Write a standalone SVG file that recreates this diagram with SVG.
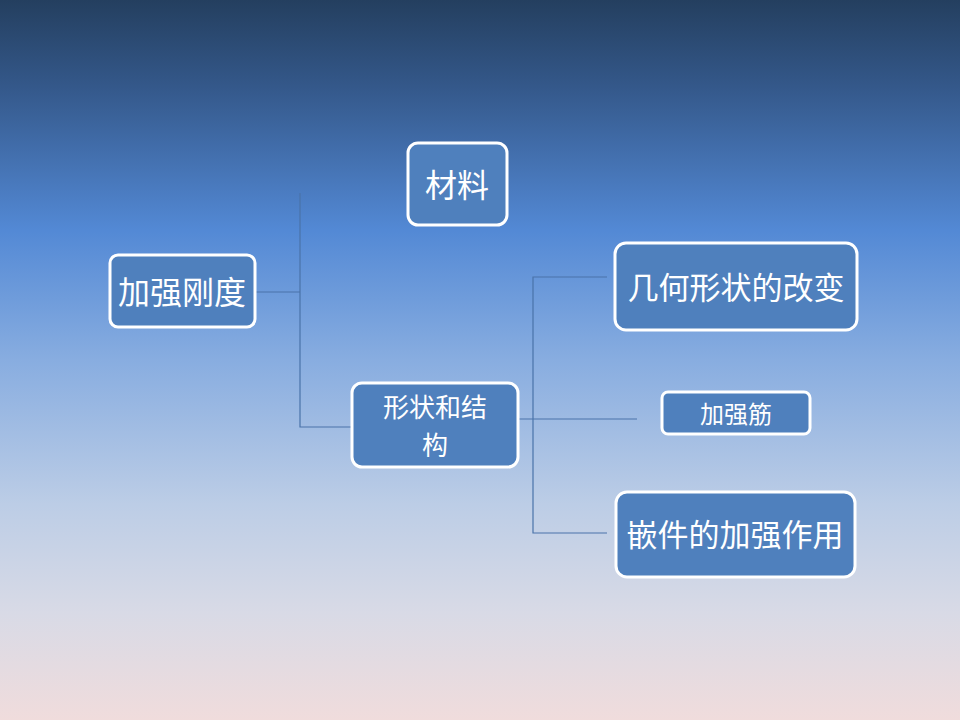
<svg xmlns="http://www.w3.org/2000/svg" width="960" height="720" viewBox="0 0 960 720">
<defs>
<linearGradient id="bg" x1="0" y1="0" x2="0" y2="1">
<stop offset="0" stop-color="#243f5f"/>
<stop offset="0.12" stop-color="#34588a"/>
<stop offset="0.32" stop-color="#5389d5"/>
<stop offset="0.5" stop-color="#88ade0"/>
<stop offset="0.7" stop-color="#bccde6"/>
<stop offset="0.85" stop-color="#d8dae6"/>
<stop offset="1" stop-color="#f0dcdc"/>
</linearGradient>
<style>
.box{fill:#4f80bd;stroke:#ffffff;stroke-width:3}
.t{fill:#ffffff;font-family:"Noto Sans CJK SC","Noto Sans",sans-serif;text-anchor:middle;dominant-baseline:central}
.ln{fill:none;stroke:#4a73a9;stroke-width:1.2}
</style>
</defs>
<rect x="0" y="0" width="960" height="720" fill="url(#bg)"/>
<g id="connectors">
<path class="ln" d="M255,292 H300 M300,193 V427 H353"/>
<path class="ln" d="M518,419 H637 M607,277 H533 V533 H607"/>
</g>
<g id="node-jiaqiang">
<rect class="box" x="110" y="255" width="145" height="72" rx="8"/>
<text class="t" x="182" y="290" font-size="32">加强刚度</text>
</g>
<g id="node-cailiao">
<rect class="box" x="408" y="143" width="99" height="82" rx="10"/>
<text class="t" x="457" y="183" font-size="32">材料</text>
</g>
<g id="node-xingzhuang">
<rect class="box" x="352" y="383" width="166" height="84" rx="10"/>
<text class="t" font-size="26"><tspan x="435" y="405">形状和结</tspan><tspan x="435" y="443">构</tspan></text>
</g>
<g id="node-jihe">
<rect class="box" x="615" y="243" width="242" height="87" rx="11"/>
<text class="t" x="736" y="285" font-size="31">几何形状的改变</text>
</g>
<g id="node-jiaqiangjin">
<rect class="box" x="662" y="392" width="148" height="42" rx="6"/>
<text class="t" x="736" y="412" font-size="24">加强筋</text>
</g>
<g id="node-qianjian">
<rect class="box" x="616" y="492" width="239" height="85" rx="11"/>
<text class="t" x="735" y="532" font-size="31">嵌件的加强作用</text>
</g>
</svg>
